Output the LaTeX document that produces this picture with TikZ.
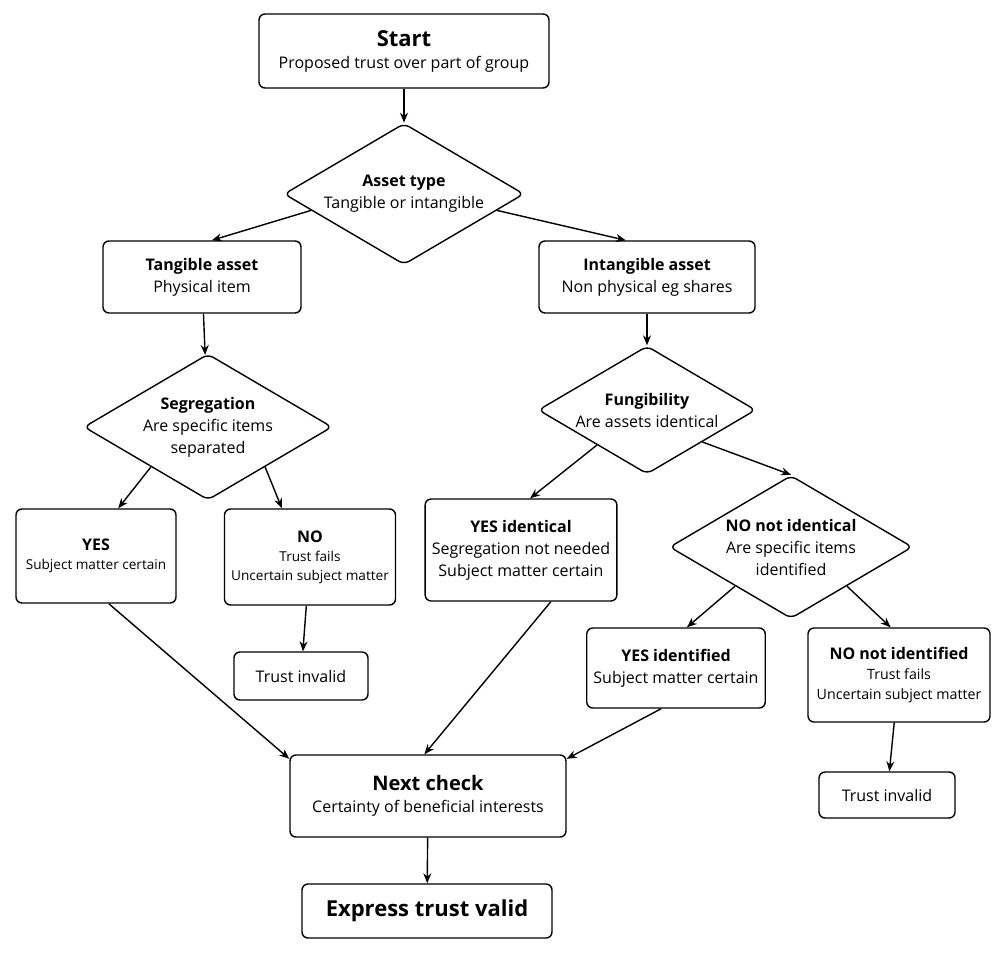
\documentclass[tikz,border=0pt]{standalone}
\usepackage{fontspec}
\setmainfont{Open Sans}
\usetikzlibrary{shapes.geometric,arrows.meta}

\tikzset{
  box/.style={draw, rounded corners=3pt, line width=0.7pt, align=center, font=\fontsize{8}{11}\selectfont},
  choice/.style={draw, diamond, aspect=1.7, rounded corners=3pt, line width=0.7pt, align=center, inner sep=1.5pt, font=\fontsize{8}{11}\selectfont},
  arr/.style={-{Stealth[length=5pt,width=4pt]}, line width=0.7pt}
}

\begin{document}
\begin{tikzpicture}[x=0.5pt,y=-0.5pt]
  \useasboundingbox (0,0) rectangle (1004,956);

  % Top of the chart
  \node[box, minimum width=145pt, minimum height=37pt] (start) at (404,51)
    {{\fontsize{11}{14}\selectfont\bfseries Start}\\Proposed trust over part of group};
  \node[choice] (asset) at (404,194)
    {\textbf{Asset type}\\Tangible or intangible};

  % Tangible side
  \node[box, minimum width=99pt, minimum height=36pt] (tang) at (202,277)
    {\textbf{Tangible asset}\\Physical item};
  \node[choice] (seg) at (208,427)
    {\textbf{Segregation}\\Are specific items\\separated};
  \node[box, minimum width=80pt, minimum height=47pt, font=\fontsize{6.8}{9.5}\selectfont] (yes) at (96,556)
    {{\fontsize{8}{10.5}\selectfont\bfseries YES}\\Subject matter certain};
  \node[box, minimum width=81pt, minimum height=48pt, font=\fontsize{6.8}{9.5}\selectfont] (no) at (310,557)
    {{\fontsize{8}{10.5}\selectfont\bfseries NO}\\Trust fails\\Uncertain subject matter};
  \node[box, minimum width=67pt, minimum height=24pt] (inv1) at (301,676) {Trust invalid};

  % Intangible side
  \node[box, minimum width=108pt, minimum height=36pt] (intang) at (647,277)
    {\textbf{Intangible asset}\\Non physical eg shares};
  \node[choice] (fung) at (647,410)
    {\textbf{Fungibility}\\Are assets identical};
  \node[box, minimum width=92pt, minimum height=51pt] (yesid) at (521,550)
    {\textbf{YES identical}\\Segregation not needed\\Subject matter certain};
  \node[choice] (noid) at (791,547)
    {\textbf{NO not identical}\\Are specific items\\identified};
  \node[box, minimum width=85pt, minimum height=40pt] (yesif) at (676,668)
    {\textbf{YES identified}\\Subject matter certain};
  \node[box, minimum width=91pt, minimum height=47pt, font=\fontsize{7.1}{10}\selectfont] (noif) at (899,675)
    {{\fontsize{8}{10.5}\selectfont\bfseries NO not identified}\\Trust fails\\Uncertain subject matter};
  \node[box, minimum width=68pt, minimum height=23pt] (inv2) at (887,795) {Trust invalid};

  % Bottom of the chart
  \node[box, minimum width=138pt, minimum height=41pt] (next) at (428,796)
    {{\fontsize{10}{13}\selectfont\bfseries Next check}\\Certainty of beneficial interests};
  \node[box, minimum width=125pt, minimum height=27pt, font=\fontsize{11}{14}\selectfont\bfseries] (valid) at (427,911)
    {Express trust valid};

  % Connectors
  \draw[arr] (start) -- (asset);
  \draw[arr] (asset.190) -- (tang.75);
  \draw[arr] (asset.-10) -- (intang.120);
  \draw[arr] (tang) -- (seg);
  \draw[arr] (intang) -- (fung);
  \draw[arr] (seg.-145) -- (yes.65);
  \draw[arr] (seg.-35) -- (no.120);
  \draw[arr] (no) -- (inv1);
  \draw[arr] (fung.-145) -- (yesid.80);
  \draw[arr] (fung.-30) -- (noid.north);
  \draw[arr] (noid.-145) -- (yesif.75);
  \draw[arr] (noid.-35) -- (noif.100);
  \draw[arr] (noif) -- (inv2);
  \draw[arr] (yes.-75) -- (next.165);
  \draw[arr] (yesid.-60) -- (next.95);
  \draw[arr] (yesif.-110) -- (next.15);
  \draw[arr] (next) -- (valid);
\end{tikzpicture}
\end{document}
